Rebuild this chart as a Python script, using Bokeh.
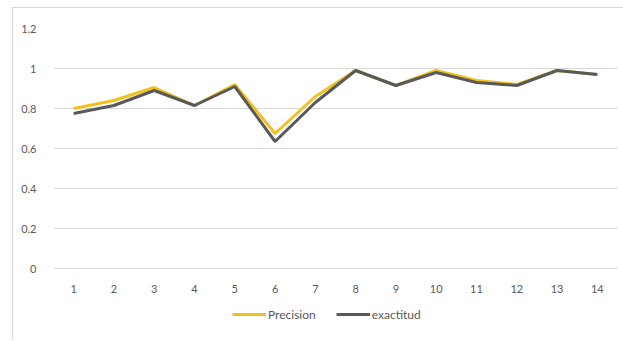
from bokeh.plotting import figure
from bokeh.models import ColumnDataSource, Legend, LegendItem, FixedTicker
from bokeh.core.properties import value
from bokeh.embed import file_html
from bokeh.resources import INLINE

categories = [str(i) for i in range(1, 15)]
precision = [0.80, 0.84, 0.905, 0.815, 0.92, 0.675, 0.86, 0.99, 0.915, 0.99, 0.94, 0.92, 0.99, 0.97]
exactitud = [0.775, 0.815, 0.89, 0.815, 0.91, 0.635, 0.83, 0.99, 0.915, 0.98, 0.93, 0.915, 0.99, 0.97]
y_ticks = [0, 0.2, 0.4, 0.6, 0.8, 1.0, 1.2]
y_labels = ["0", "0.2", "0.4", "0.6", "0.8", "1", "1.2"]

src = ColumnDataSource(dict(x=categories, precision=precision, exactitud=exactitud,
                            base=[0] * len(categories)))

p = figure(frame_width=564, frame_height=312, x_range=categories, y_range=(-0.36, 1.2),
           output_backend="svg", toolbar_location=None,
           min_border_left=40, min_border_right=7, min_border_top=20, min_border_bottom=0)
p.margin = (7, 0, 0, 12)
p.styles = {"border-left": "1px solid #d9d9d9", "border-top": "1px solid #d9d9d9"}
p.outline_line_color = None
p.background_fill_color = "white"
p.border_fill_color = "white"

p.xaxis.visible = False
p.yaxis.ticker = FixedTicker(ticks=y_ticks)
p.yaxis.major_label_overrides = dict(zip(y_ticks, y_labels))
ax = p.yaxis[0]
ax.axis_line_color = None
ax.major_tick_line_color = None
ax.minor_tick_line_color = None
ax.major_label_text_font = "Lato"
ax.major_label_text_font_size = "11px"
ax.major_label_text_color = "#595959"
ax.major_label_standoff = 11

p.xgrid.grid_line_color = None
p.ygrid.grid_line_color = "#d9d9d9"
p.ygrid.grid_line_width = 1
p.ygrid.ticker = FixedTicker(ticks=y_ticks)

# category labels under the zero line
p.text(x="x", y="base", text="x", source=src, y_offset=20,
       text_align="center", text_baseline="middle",
       text_font=value("Lato"), text_font_size="11px", text_color="#595959")

r1 = p.line("x", "precision", source=src, line_color="#F2C01E", line_width=3)
r2 = p.line("x", "exactitud", source=src, line_color="#58595a", line_width=3)

legend = Legend(items=[LegendItem(label="Precision", renderers=[r1]),
                       LegendItem(label="exactitud", renderers=[r2])],
                orientation="horizontal", location=(179, 16),
                label_text_font="Lato", label_text_font_size="12px",
                label_text_color="#595959", glyph_width=34, label_standoff=2,
                spacing=20, border_line_color=None, background_fill_alpha=0,
                padding=2, margin=0)
p.add_layout(legend)

open("out.html", "w").write(file_html(p, INLINE))
